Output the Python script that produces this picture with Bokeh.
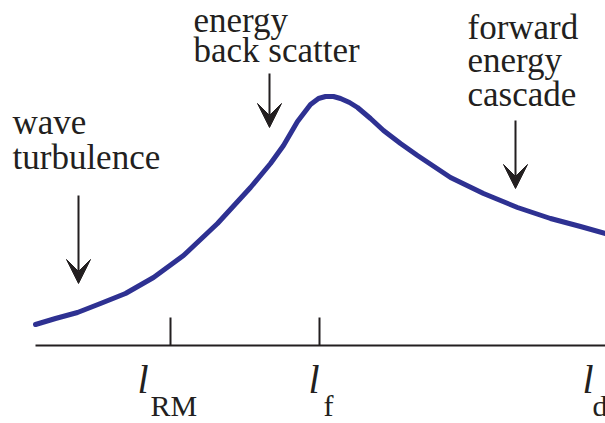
from bokeh.plotting import figure
from bokeh.models import Range1d, ColumnDataSource, Arrow, VeeHead
from bokeh.core.properties import value
from bokeh.embed import file_html
from bokeh.resources import INLINE

# Schematic spectrum (x = scale position along axis, y = amplitude above axis)
curve_x = [0, 20, 42, 65, 90, 118, 148, 182, 215, 235, 248, 262, 275, 283, 290,
           298, 305, 314, 322, 335, 348, 365, 382, 415, 448, 482, 515, 545, 570]
curve_y = [21, 27, 33, 42, 52, 68, 90, 122, 158, 182, 200, 224, 241, 247, 249,
           249, 247, 243, 238, 227, 215, 202, 190, 168, 152, 138, 127, 119, 112]

axis_x = [0, 570]
tick_x = [135, 284]
tick_height = 28

scale_names = ["l", "l", "l"]
scale_subs = ["RM", "f", "d"]
scale_label_x = [102, 273, 547]
scale_sub_x = [115, 288, 557]
scale_label_y = -34
scale_sub_y = -60

note_lines = ["energy", "back scatter", "forward", "energy", "cascade", "wave", "turbulence"]
note_x = [158, 158, 432, 432, 432, -23, -23]
note_y = [325, 295, 318, 285, 251, 223, 188]

arrow_x = [43, 234, 480]
arrow_top = [150, 272, 225]
arrow_tip = [62, 218, 157]

p = figure(width=605, height=423, output_backend="svg", toolbar_location=None,
           x_range=Range1d(-35, 570), y_range=Range1d(-78, 345),
           min_border=0, outline_line_color=None)
p.axis.visible = False
p.grid.visible = False
p.background_fill_color = "white"
p.border_fill_color = "white"

# horizontal scale axis
p.line(axis_x, [0, 0], line_color="#231f20", line_width=2)
p.segment(x0=tick_x, y0=[0] * len(tick_x), x1=tick_x, y1=[tick_height] * len(tick_x),
          line_color="#231f20", line_width=2)

# spectrum curve
p.line(curve_x, curve_y, line_color="#2e3192", line_width=5, line_join="round", line_cap="round")

# arrows
src = ColumnDataSource(dict(x0=arrow_x, y0=arrow_top, x1=arrow_x, y1=arrow_tip))
p.add_layout(Arrow(end=VeeHead(size=24, fill_color="#231f20", line_color="#231f20"),
                   x_start="x0", y_start="y0", x_end="x1", y_end="y1", source=src,
                   line_color="#231f20", line_width=2))

# annotation text
p.text(x=note_x, y=note_y, text=note_lines, text_font=value("Liberation Serif"),
       text_font_size="35px", text_color="#231f20", text_align="left",
       text_baseline="alphabetic")

# scale labels
p.text(x=scale_label_x, y=[scale_label_y] * 3, text=scale_names, text_font=value("Liberation Serif"),
       text_font_style="italic", text_font_size="40px", text_color="#231f20",
       text_align="left", text_baseline="alphabetic")
p.text(x=scale_sub_x, y=[scale_sub_y] * 3, text=scale_subs, text_font=value("Liberation Serif"),
       text_font_size="30px", text_color="#231f20", text_align="left",
       text_baseline="alphabetic")

open("out.html", "w").write(file_html(p, INLINE))
